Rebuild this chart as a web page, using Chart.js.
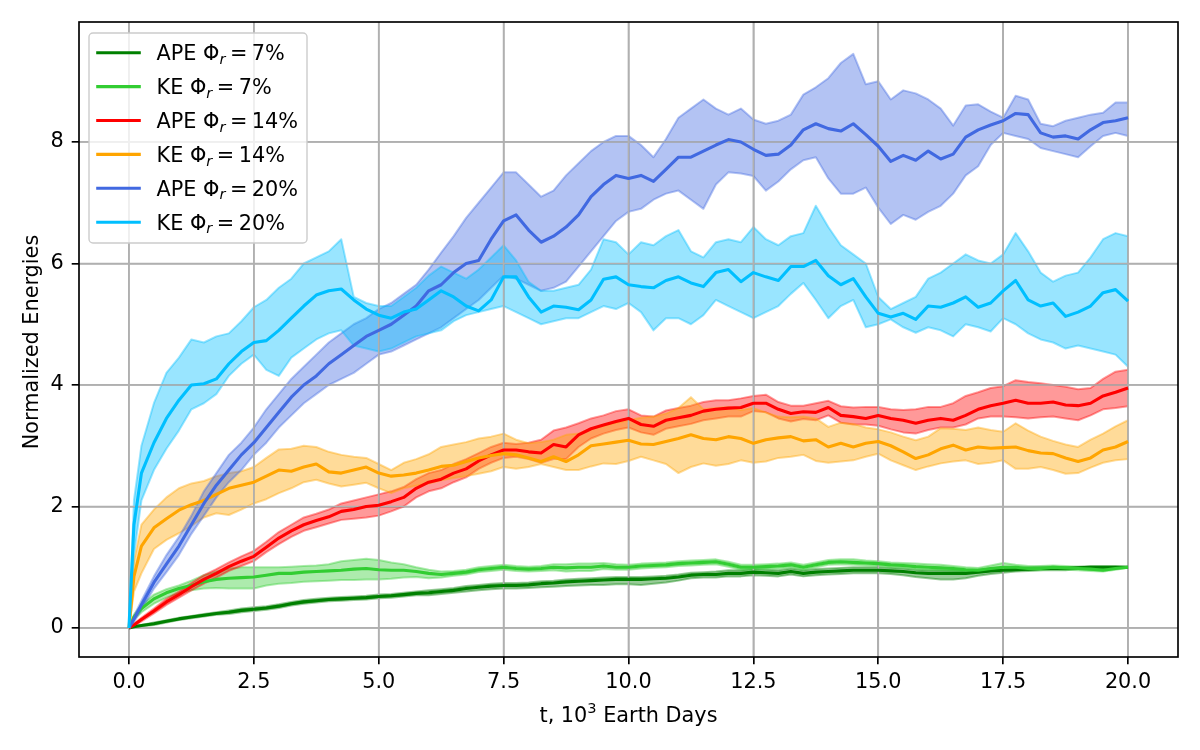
<!DOCTYPE html>
<html>
<head>
<meta charset="utf-8">
<title>Normalized energies</title>
<script src="https://cdn.jsdelivr.net/npm/chart.js@4.4.1/dist/chart.umd.min.js"></script>
<style>
  html, body { margin: 0; padding: 0; background: #fff; }
  #wrap { width: 1200px; height: 750px; }
</style>
</head>
<body>
<div id="wrap"><canvas id="myChart" width="1200" height="750"></canvas></div>
<script>
// time, 10^3 Earth days
const times = [
  0, 0.1, 0.25, 0.5, 0.75, 1,
  1.25, 1.5, 1.75, 2, 2.25, 2.5, 2.75, 3, 3.25, 3.5, 3.75, 4,
  4.25, 4.5, 4.75, 5, 5.25, 5.5, 5.75, 6, 6.25, 6.5, 6.75, 7,
  7.25, 7.5, 7.75, 8, 8.25, 8.5, 8.75, 9, 9.25, 9.5, 9.75, 10,
  10.25, 10.5, 10.75, 11, 11.25, 11.5, 11.75, 12, 12.25, 12.5, 12.75, 13,
  13.25, 13.5, 13.75, 14, 14.25, 14.5, 14.75, 15, 15.25, 15.5, 15.75, 16,
  16.25, 16.5, 16.75, 17, 17.25, 17.5, 17.75, 18, 18.25, 18.5, 18.75, 19,
  19.25, 19.5, 19.75, 20
];

// Phi_r = 7%
const ape7 = [
  0, 0.02, 0.04, 0.07, 0.11, 0.15,
  0.18, 0.21, 0.24, 0.26, 0.29, 0.31, 0.33, 0.36, 0.40, 0.43, 0.45, 0.47,
  0.48, 0.49, 0.50, 0.52, 0.53, 0.55, 0.57, 0.58, 0.60, 0.62, 0.65, 0.67,
  0.69, 0.70, 0.70, 0.71, 0.73, 0.74, 0.76, 0.77, 0.78, 0.79, 0.80, 0.80,
  0.80, 0.81, 0.82, 0.84, 0.87, 0.88, 0.88, 0.90, 0.90, 0.92, 0.91, 0.90,
  0.93, 0.90, 0.92, 0.93, 0.94, 0.95, 0.95, 0.95, 0.94, 0.93, 0.91, 0.90,
  0.90, 0.90, 0.90, 0.92, 0.94, 0.95, 0.96, 0.97, 0.98, 0.98, 0.98, 0.99,
  1.00, 1.00, 1.00, 1.00
];
const ape7Hi = [
  0, 0.03, 0.05, 0.09, 0.13, 0.17,
  0.20, 0.23, 0.26, 0.29, 0.32, 0.34, 0.36, 0.39, 0.43, 0.46, 0.48, 0.50,
  0.51, 0.52, 0.53, 0.55, 0.56, 0.58, 0.60, 0.62, 0.64, 0.66, 0.69, 0.71,
  0.73, 0.74, 0.74, 0.75, 0.77, 0.78, 0.80, 0.81, 0.82, 0.83, 0.84, 0.84,
  0.84, 0.85, 0.86, 0.88, 0.91, 0.92, 0.93, 0.95, 0.95, 0.97, 0.96, 0.95,
  0.98, 0.95, 0.97, 0.98, 0.99, 1.00, 1.00, 1.00, 0.99, 0.98, 0.96, 0.95,
  0.95, 0.95, 0.95, 0.96, 0.98, 0.98, 0.99, 1.00, 1.01, 1.01, 1.00, 1.01,
  1.02, 1.02, 1.02, 1.01
];
const ape7Lo = [
  0, 0.01, 0.03, 0.05, 0.09, 0.13,
  0.16, 0.19, 0.22, 0.23, 0.26, 0.28, 0.30, 0.33, 0.37, 0.40, 0.42, 0.44,
  0.45, 0.46, 0.47, 0.49, 0.50, 0.52, 0.54, 0.54, 0.56, 0.58, 0.60, 0.62,
  0.64, 0.65, 0.65, 0.66, 0.67, 0.68, 0.69, 0.70, 0.71, 0.71, 0.72, 0.72,
  0.71, 0.73, 0.75, 0.78, 0.82, 0.83, 0.83, 0.85, 0.85, 0.87, 0.86, 0.85,
  0.88, 0.85, 0.87, 0.88, 0.89, 0.90, 0.90, 0.90, 0.89, 0.87, 0.84, 0.82,
  0.80, 0.80, 0.82, 0.86, 0.89, 0.91, 0.93, 0.94, 0.95, 0.95, 0.95, 0.97,
  0.98, 0.98, 0.99, 0.99
];
const ke7 = [
  0, 0.18, 0.32, 0.48, 0.58, 0.65,
  0.70, 0.76, 0.80, 0.82, 0.83, 0.84, 0.87, 0.90, 0.90, 0.92, 0.93, 0.94,
  0.95, 0.97, 0.98, 0.96, 0.95, 0.95, 0.93, 0.90, 0.88, 0.90, 0.92, 0.96,
  0.98, 1.00, 0.98, 0.97, 0.98, 1.00, 0.99, 1.00, 1.00, 1.02, 1.00, 1.00,
  1.02, 1.03, 1.04, 1.06, 1.07, 1.08, 1.09, 1.05, 1.00, 1.00, 1.01, 1.02,
  1.04, 1.00, 1.04, 1.08, 1.09, 1.08, 1.07, 1.06, 1.04, 1.03, 1.01, 1.00,
  0.99, 0.98, 0.96, 0.95, 0.98, 1.00, 1.00, 0.98, 0.98, 1.00, 0.99, 0.98,
  0.97, 0.95, 0.98, 1.00
];
const ke7Hi = [
  0, 0.22, 0.38, 0.55, 0.64, 0.70,
  0.78, 0.87, 0.93, 0.98, 1.00, 1.00, 1.00, 1.00, 1.01, 1.02, 1.03, 1.05,
  1.10, 1.12, 1.14, 1.12, 1.08, 1.05, 1.00, 0.96, 0.93, 0.94, 0.96, 1.00,
  1.02, 1.04, 1.02, 1.01, 1.02, 1.05, 1.05, 1.06, 1.06, 1.07, 1.05, 1.04,
  1.06, 1.07, 1.08, 1.10, 1.11, 1.12, 1.13, 1.09, 1.04, 1.04, 1.05, 1.06,
  1.08, 1.04, 1.08, 1.12, 1.13, 1.13, 1.11, 1.10, 1.08, 1.07, 1.06, 1.05,
  1.04, 1.02, 1.00, 0.99, 1.03, 1.07, 1.04, 1.02, 1.02, 1.03, 1.02, 1.01,
  1.00, 0.98, 1.00, 1.01
];
const ke7Lo = [
  0, 0.14, 0.26, 0.40, 0.50, 0.57,
  0.62, 0.65, 0.66, 0.65, 0.65, 0.65, 0.70, 0.73, 0.74, 0.76, 0.77, 0.78,
  0.79, 0.79, 0.80, 0.80, 0.81, 0.83, 0.84, 0.82, 0.83, 0.86, 0.88, 0.92,
  0.94, 0.96, 0.94, 0.93, 0.94, 0.95, 0.93, 0.94, 0.94, 0.97, 0.96, 0.96,
  0.98, 0.99, 1.00, 1.02, 1.03, 1.04, 1.05, 1.01, 0.96, 0.96, 0.97, 0.98,
  1.00, 0.96, 1.00, 1.04, 1.05, 1.04, 1.03, 1.02, 1.00, 0.99, 0.97, 0.96,
  0.95, 0.94, 0.92, 0.91, 0.94, 0.96, 0.97, 0.95, 0.95, 0.97, 0.96, 0.95,
  0.94, 0.93, 0.96, 0.99
];

// Phi_r = 14%
const ape14 = [
  0, 0.05, 0.14, 0.28, 0.43, 0.55,
  0.68, 0.80, 0.90, 1.01, 1.10, 1.18, 1.33, 1.48, 1.60, 1.70, 1.77, 1.83,
  1.92, 1.95, 2.00, 2.02, 2.08, 2.15, 2.30, 2.40, 2.45, 2.55, 2.62, 2.75,
  2.85, 2.93, 2.93, 2.90, 2.88, 3.02, 2.98, 3.18, 3.28, 3.34, 3.40, 3.45,
  3.35, 3.32, 3.42, 3.46, 3.50, 3.57, 3.60, 3.62, 3.63, 3.70, 3.70, 3.60,
  3.53, 3.56, 3.55, 3.63, 3.50, 3.48, 3.45, 3.50, 3.45, 3.42, 3.37, 3.42,
  3.45, 3.42, 3.50, 3.60, 3.66, 3.70, 3.75, 3.70, 3.70, 3.72, 3.67, 3.66,
  3.70, 3.82, 3.88, 3.95
];
const ape14Hi = [
  0, 0.07, 0.17, 0.32, 0.48, 0.60,
  0.74, 0.87, 0.97, 1.08, 1.18, 1.27, 1.42, 1.58, 1.70, 1.82, 1.88, 1.95,
  2.05, 2.10, 2.15, 2.20, 2.25, 2.32, 2.45, 2.55, 2.60, 2.70, 2.78, 2.88,
  2.98, 3.05, 3.03, 3.05, 3.10, 3.25, 3.30, 3.37, 3.45, 3.50, 3.57, 3.60,
  3.50, 3.48, 3.58, 3.62, 3.66, 3.72, 3.75, 3.75, 3.78, 3.82, 3.84, 3.72,
  3.66, 3.66, 3.70, 3.74, 3.65, 3.63, 3.64, 3.64, 3.60, 3.59, 3.60, 3.64,
  3.64, 3.70, 3.82, 3.88, 3.95, 3.98, 4.08, 4.05, 4.03, 4.00, 3.97, 3.93,
  3.95, 4.10, 4.22, 4.25
];
const ape14Lo = [
  0, 0.03, 0.11, 0.24, 0.38, 0.50,
  0.62, 0.73, 0.83, 0.94, 1.02, 1.10, 1.25, 1.38, 1.50, 1.60, 1.66, 1.72,
  1.78, 1.80, 1.82, 1.85, 1.92, 2.00, 2.15, 2.25, 2.30, 2.40, 2.48, 2.62,
  2.72, 2.80, 2.82, 2.78, 2.72, 2.78, 2.78, 2.98, 3.12, 3.20, 3.26, 3.30,
  3.22, 3.18, 3.28, 3.32, 3.36, 3.42, 3.45, 3.48, 3.48, 3.57, 3.55, 3.45,
  3.40, 3.44, 3.42, 3.50, 3.38, 3.35, 3.35, 3.33, 3.27, 3.22, 3.20, 3.26,
  3.30, 3.30, 3.35, 3.45, 3.48, 3.48, 3.47, 3.45, 3.47, 3.48, 3.45, 3.42,
  3.50, 3.60, 3.62, 3.65
];
const ke14 = [
  0, 0.85, 1.35, 1.65, 1.80, 1.94,
  2.03, 2.10, 2.20, 2.30, 2.35, 2.40, 2.50, 2.60, 2.58, 2.65, 2.70, 2.57,
  2.55, 2.60, 2.65, 2.55, 2.50, 2.52, 2.55, 2.60, 2.66, 2.68, 2.74, 2.80,
  2.84, 2.87, 2.85, 2.80, 2.74, 2.82, 2.74, 2.85, 3.00, 3.03, 3.06, 3.09,
  3.03, 3.02, 3.07, 3.12, 3.18, 3.12, 3.10, 3.15, 3.12, 3.04, 3.10, 3.13,
  3.15, 3.08, 3.10, 2.98, 3.04, 2.98, 3.04, 3.07, 3.00, 2.90, 2.79, 2.85,
  2.95, 3.01, 2.93, 2.98, 2.96, 2.97, 2.98, 2.92, 2.88, 2.87, 2.80, 2.74,
  2.80, 2.93, 2.98, 3.07
];
const ke14Hi = [
  0, 1.10, 1.70, 1.95, 2.15, 2.30,
  2.38, 2.42, 2.50, 2.55, 2.58, 2.65, 2.80, 2.94, 2.95, 3.00, 2.98, 2.90,
  2.85, 2.82, 2.80, 2.70, 2.60, 2.72, 2.78, 2.86, 2.98, 3.02, 3.06, 3.12,
  3.15, 3.20, 3.10, 3.04, 3.06, 3.10, 3.18, 3.20, 3.28, 3.33, 3.38, 3.42,
  3.46, 3.48, 3.53, 3.62, 3.80, 3.60, 3.62, 3.64, 3.59, 3.62, 3.55, 3.48,
  3.47, 3.48, 3.45, 3.31, 3.38, 3.36, 3.30, 3.27, 3.22, 3.15, 3.09, 3.15,
  3.29, 3.28, 3.26, 3.30, 3.26, 3.23, 3.37, 3.25, 3.15, 3.08, 3.02, 2.98,
  3.10, 3.20, 3.32, 3.42
];
const ke14Lo = [
  0, 0.60, 0.90, 1.30, 1.45, 1.56,
  1.68, 1.82, 1.89, 1.86, 1.95, 2.05, 2.12, 2.22, 2.30, 2.40, 2.44, 2.38,
  2.33, 2.36, 2.39, 2.30, 2.22, 2.30, 2.34, 2.38, 2.43, 2.47, 2.50, 2.54,
  2.58, 2.65, 2.62, 2.65, 2.70, 2.65, 2.60, 2.60, 2.66, 2.71, 2.70, 2.75,
  2.82, 2.76, 2.70, 2.55, 2.65, 2.71, 2.67, 2.70, 2.76, 2.72, 2.74, 2.80,
  2.82, 2.85, 2.75, 2.72, 2.74, 2.76, 2.82, 2.87, 2.76, 2.68, 2.60, 2.66,
  2.71, 2.74, 2.76, 2.70, 2.72, 2.76, 2.62, 2.62, 2.65, 2.60, 2.54, 2.55,
  2.64, 2.72, 2.76, 2.78
];

// Phi_r = 20%
const ape20 = [
  0, 0.15, 0.38, 0.75, 1.05, 1.35,
  1.70, 2.05, 2.35, 2.60, 2.85, 3.05, 3.30, 3.55, 3.80, 4.00, 4.15, 4.35,
  4.50, 4.65, 4.80, 4.90, 5.00, 5.15, 5.30, 5.55, 5.65, 5.85, 6.00, 6.05,
  6.40, 6.70, 6.80, 6.55, 6.35, 6.45, 6.60, 6.80, 7.10, 7.30, 7.45, 7.40,
  7.45, 7.35, 7.55, 7.75, 7.75, 7.85, 7.95, 8.04, 8.00, 7.88, 7.78, 7.80,
  7.95, 8.20, 8.30, 8.22, 8.18, 8.30, 8.12, 7.93, 7.68, 7.78, 7.70, 7.85,
  7.72, 7.80, 8.08, 8.20, 8.28, 8.35, 8.47, 8.45, 8.15, 8.08, 8.10, 8.05,
  8.20, 8.32, 8.35, 8.40
];
const ape20Hi = [
  0, 0.20, 0.45, 0.85, 1.20, 1.50,
  1.85, 2.25, 2.55, 2.85, 3.05, 3.30, 3.60, 3.85, 4.10, 4.30, 4.50, 4.70,
  4.85, 5.00, 5.10, 5.25, 5.35, 5.50, 5.65, 5.90, 6.18, 6.45, 6.75, 7.00,
  7.25, 7.50, 7.50, 7.30, 7.10, 7.20, 7.45, 7.65, 7.85, 8.00, 8.10, 8.10,
  7.95, 7.75, 8.05, 8.40, 8.55, 8.70, 8.55, 8.45, 8.55, 8.37, 8.30, 8.35,
  8.45, 8.78, 8.90, 9.05, 9.30, 9.45, 8.95, 9.00, 8.70, 8.85, 8.80, 8.70,
  8.55, 8.27, 8.60, 8.62, 8.50, 8.40, 8.76, 8.70, 8.30, 8.26, 8.35, 8.40,
  8.45, 8.48, 8.65, 8.65
];
const ape20Lo = [
  0, 0.10, 0.30, 0.65, 0.92, 1.20,
  1.55, 1.85, 2.15, 2.40, 2.60, 2.85, 3.05, 3.30, 3.50, 3.70, 3.85, 4.00,
  4.10, 4.20, 4.35, 4.50, 4.55, 4.65, 4.75, 4.85, 4.95, 5.10, 5.25, 5.40,
  5.60, 5.80, 5.75, 5.65, 5.55, 5.60, 5.70, 5.95, 6.20, 6.45, 6.70, 6.85,
  6.90, 7.05, 7.15, 7.20, 7.05, 6.90, 7.30, 7.50, 7.48, 7.44, 7.20, 7.35,
  7.55, 7.70, 7.75, 7.40, 7.15, 7.15, 7.25, 6.92, 6.65, 6.80, 6.72, 6.85,
  6.95, 7.15, 7.45, 7.60, 7.95, 8.15, 8.10, 8.05, 7.90, 7.85, 7.80, 7.75,
  7.93, 8.10, 8.15, 8.10
];
const ke20 = [
  0, 1.70, 2.55, 3.05, 3.45, 3.75,
  4.00, 4.02, 4.10, 4.35, 4.55, 4.70, 4.73, 4.90, 5.10, 5.30, 5.48, 5.55,
  5.58, 5.40, 5.25, 5.15, 5.10, 5.20, 5.25, 5.40, 5.55, 5.45, 5.30, 5.22,
  5.40, 5.78, 5.78, 5.45, 5.20, 5.30, 5.28, 5.24, 5.40, 5.74, 5.78, 5.65,
  5.62, 5.60, 5.72, 5.78, 5.68, 5.62, 5.85, 5.90, 5.70, 5.85, 5.78, 5.72,
  5.95, 5.95, 6.05, 5.80, 5.65, 5.75, 5.45, 5.18, 5.12, 5.18, 5.08, 5.30,
  5.28, 5.35, 5.45, 5.28, 5.35, 5.55, 5.72, 5.40, 5.30, 5.35, 5.13, 5.20,
  5.30, 5.52, 5.57, 5.38
];
const ke20Hi = [
  0, 2.10, 3.00, 3.70, 4.20, 4.45,
  4.75, 4.70, 4.80, 4.85, 5.05, 5.28, 5.40, 5.60, 5.75, 6.00, 6.10, 6.20,
  6.40, 5.45, 5.35, 5.30, 5.30, 5.45, 5.60, 5.80, 5.95, 5.85, 5.75, 5.90,
  6.10, 6.30, 6.05, 5.70, 5.55, 5.55, 5.60, 5.65, 5.90, 6.40, 6.35, 6.15,
  6.35, 6.30, 6.45, 6.55, 6.20, 6.10, 6.35, 6.40, 6.35, 6.60, 6.40, 6.30,
  6.45, 6.50, 6.95, 6.60, 6.30, 6.15, 6.00, 5.45, 5.25, 5.35, 5.45, 5.75,
  5.85, 6.00, 6.15, 6.05, 6.00, 6.15, 6.50, 6.20, 5.85, 5.70, 5.80, 5.85,
  6.10, 6.40, 6.50, 6.45
];
const ke20Lo = [
  0, 1.20, 2.10, 2.60, 2.95, 3.25,
  3.60, 3.70, 3.85, 4.15, 4.35, 4.50, 4.25, 4.15, 4.45, 4.60, 4.75, 4.85,
  4.90, 4.65, 4.60, 4.55, 4.60, 4.70, 4.80, 4.85, 4.90, 5.05, 5.15, 5.20,
  5.25, 5.30, 5.20, 5.10, 5.00, 5.05, 5.10, 5.10, 5.20, 5.30, 5.25, 5.35,
  5.20, 4.90, 5.10, 5.10, 5.00, 5.15, 5.40, 5.30, 5.20, 5.10, 5.20, 5.30,
  5.50, 5.68, 5.40, 5.10, 5.30, 5.40, 4.95, 5.00, 5.08, 4.95, 4.86, 4.95,
  4.90, 4.80, 5.00, 4.95, 4.88, 5.10, 5.00, 4.85, 4.75, 4.70, 4.60, 4.65,
  4.60, 4.55, 4.50, 4.30
];

const xTicks = [0, 2.5, 5, 7.5, 10, 12.5, 15, 17.5, 20];
const yTicks = [0, 2, 4, 6, 8];

const runs = [
  { kind: "APE", pct: "7%", rgb: "0,128,0", mean: ape7, hi: ape7Hi, lo: ape7Lo },
  { kind: "KE", pct: "7%", rgb: "50,205,50", mean: ke7, hi: ke7Hi, lo: ke7Lo },
  { kind: "APE", pct: "14%", rgb: "255,0,0", mean: ape14, hi: ape14Hi, lo: ape14Lo },
  { kind: "KE", pct: "14%", rgb: "255,165,0", mean: ke14, hi: ke14Hi, lo: ke14Lo },
  { kind: "APE", pct: "20%", rgb: "65,105,225", mean: ape20, hi: ape20Hi, lo: ape20Lo },
  { kind: "KE", pct: "20%", rgb: "0,191,255", mean: ke20, hi: ke20Hi, lo: ke20Lo },
];

const FONT = '"DejaVu Sans", "Liberation Sans", sans-serif';
const FS = 20.8;
const GRID = "#b0b0b0";

const pts = (arr) => times.map((t, i) => ({ x: t, y: arr[i] }));

// bands first (below every line), then the mean lines
const datasets = [];
runs.forEach((r, k) => {
  datasets.push({
    data: pts(r.hi),
    borderColor: `rgba(${r.rgb},0.4)`,
    backgroundColor: `rgba(${r.rgb},0.4)`,
    borderWidth: 2,
    fill: "+1",
    order: 100 - 2 * k,
  });
  datasets.push({
    data: pts(r.lo),
    borderColor: `rgba(${r.rgb},0.4)`,
    borderWidth: 2,
    fill: false,
    order: 99 - 2 * k,
  });
});
runs.forEach((r, k) => {
  datasets.push({
    data: pts(r.mean),
    borderColor: `rgb(${r.rgb})`,
    borderWidth: 3.1,
    fill: false,
    order: 10 - k,
  });
});

// text with sub/superscripts, drawn piece by piece
function richWidth(ctx, parts) {
  let w = 0;
  parts.forEach((p) => {
    ctx.font = `${p.italic ? "italic " : ""}${p.size || FS}px ${FONT}`;
    w += (p.gap || 0) + ctx.measureText(p.text).width;
  });
  return w;
}
function drawRich(ctx, x, y, parts) {
  parts.forEach((p) => {
    x += p.gap || 0;
    ctx.font = `${p.italic ? "italic " : ""}${p.size || FS}px ${FONT}`;
    ctx.fillText(p.text, x, y + (p.dy || 0));
    x += ctx.measureText(p.text).width;
  });
}

const overlay = {
  id: "overlay",
  // grid sits above the shaded bands but under the lines, as in matplotlib
  beforeDatasetDraw(chart, args) {
    if (chart.data.datasets[args.index].order !== 10) return;
    const { ctx, chartArea: a, scales } = chart;
    ctx.save();
    ctx.strokeStyle = GRID;
    ctx.lineWidth = 1.67;
    ctx.beginPath();
    xTicks.forEach((v) => {
      const px = scales.x.getPixelForValue(v);
      ctx.moveTo(px, a.top);
      ctx.lineTo(px, a.bottom);
    });
    yTicks.forEach((v) => {
      const py = scales.y.getPixelForValue(v);
      ctx.moveTo(a.left, py);
      ctx.lineTo(a.right, py);
    });
    ctx.stroke();
    ctx.restore();
  },
  afterDraw(chart) {
    const { ctx, chartArea: a } = chart;
    ctx.save();

    // spines
    ctx.strokeStyle = "#000";
    ctx.lineWidth = 1.67;
    ctx.strokeRect(a.left, a.top, a.right - a.left, a.bottom - a.top);

    ctx.fillStyle = "#000";
    ctx.textBaseline = "alphabetic";

    // x title
    const xt = [
      { text: "t, 10" },
      { text: "3", size: 14.6, dy: -8.5 },
      { text: " Earth Days" },
    ];
    ctx.textAlign = "left";
    drawRich(ctx, (a.left + a.right) / 2 - richWidth(ctx, xt) / 2, 721.7, xt);

    // y title
    ctx.save();
    ctx.translate(37.5, 342);
    ctx.rotate(-Math.PI / 2);
    ctx.textAlign = "center";
    ctx.font = `${FS}px ${FONT}`;
    ctx.fillText("Normalized Energies", 0, 0);
    ctx.restore();

    // legend box
    const bx = 89, by = 33, bw = 218, bh = 210, rad = 4;
    ctx.beginPath();
    ctx.moveTo(bx + rad, by);
    ctx.arcTo(bx + bw, by, bx + bw, by + bh, rad);
    ctx.arcTo(bx + bw, by + bh, bx, by + bh, rad);
    ctx.arcTo(bx, by + bh, bx, by, rad);
    ctx.arcTo(bx, by, bx + bw, by, rad);
    ctx.closePath();
    ctx.fillStyle = "rgba(255,255,255,0.8)";
    ctx.fill();
    ctx.strokeStyle = "#cccccc";
    ctx.lineWidth = 1.4;
    ctx.stroke();

    runs.forEach((r, i) => {
      const cy = 52.7 + i * 33.9;
      ctx.strokeStyle = `rgb(${r.rgb})`;
      ctx.lineWidth = 3.1;
      ctx.beginPath();
      ctx.moveTo(96.2, cy);
      ctx.lineTo(140.8, cy);
      ctx.stroke();
      ctx.fillStyle = "#000";
      drawRich(ctx, 156.5, cy + 7.5, [
        { text: r.kind + " \u03A6" },
        { text: "r", italic: true, size: 14.6, dy: 3.6 },
        { text: "=", gap: 4.5 },
        { text: r.pct, gap: 4.5 },
      ]);
    });

    ctx.restore();
  },
};

const ctx = document.getElementById("myChart");

new Chart(ctx, {
  type: "line",
  data: { datasets },
  plugins: [overlay],
  options: {
    responsive: false,
    animation: false,
    devicePixelRatio: 1,
    layout: { padding: { top: 22, right: 22, left: 0, bottom: 0 } },
    elements: {
      point: { radius: 0, hoverRadius: 0 },
      line: { tension: 0, borderJoinStyle: "round" },
    },
    plugins: {
      legend: { display: false },
      tooltip: { enabled: false },
    },
    scales: {
      x: {
        type: "linear",
        min: -1,
        max: 21,
        afterBuildTicks(scale) {
          scale.ticks = xTicks.map((v) => ({ value: v }));
        },
        afterFit(scale) {
          scale.height = 93;
        },
        ticks: {
          callback: (v) => v.toFixed(1),
          color: "#000",
          font: { family: FONT, size: FS },
          padding: 6,
          maxRotation: 0,
          autoSkip: false,
        },
        grid: {
          color: GRID,
          lineWidth: 1.67,
          tickColor: "#000",
          tickLength: 7.3,
          tickWidth: 1.67,
        },
        border: { display: false },
      },
      y: {
        min: -0.477,
        max: 9.975,
        afterBuildTicks(scale) {
          scale.ticks = yTicks.map((v) => ({ value: v }));
        },
        afterFit(scale) {
          scale.width = 79;
        },
        ticks: {
          callback: (v) => String(v),
          color: "#000",
          font: { family: FONT, size: FS },
          padding: 8,
        },
        grid: {
          color: GRID,
          lineWidth: 1.67,
          tickColor: "#000",
          tickLength: 7.3,
          tickWidth: 1.67,
        },
        border: { display: false },
      },
    },
  },
});
</script>
</body>
</html>
